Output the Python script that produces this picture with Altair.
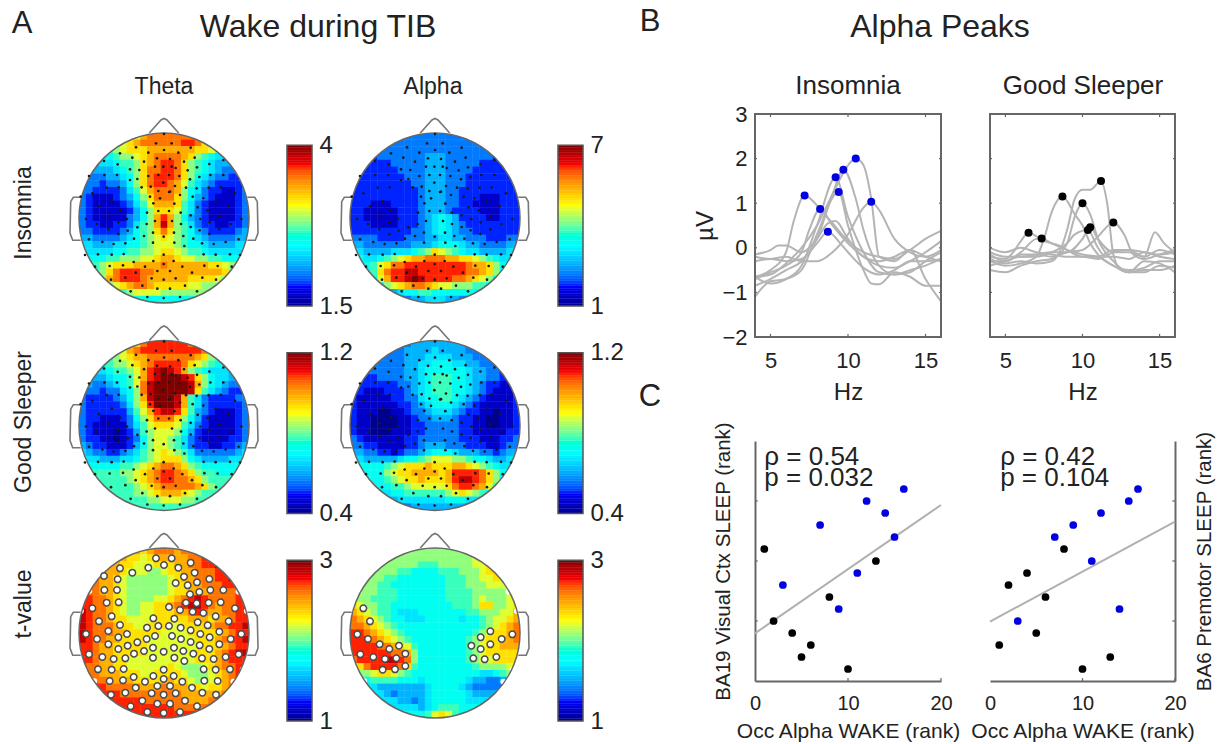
import altair as alt
import numpy as np
import pandas as pd

JET = ["#00008f", "#0000ff", "#00ffff", "#ffff00", "#ff0000", "#800000"]
JET_STOPS = [0, 0.125, 0.375, 0.625, 0.875, 1]
LEVELS = "0123456789abcdef"

theta_insomnia = """777777789bcccccccddca9877
777778 9abccccccddca87777
6666789aaabbbbbbbaa976666
555567889abccccba87655555
444556778abcddca876544444
334445678accddca876543333
333344568acdddca865433223
333233468acddcb9754322223
3322223579bcccb8653221123
3211123468accca8643211123
32111123579bbba7532111123
32111112468aaa97532111123
32111113468bdb86432111123
32211223578beb87532211223
33222234678aca87643222234
443333456789a987654333344
5544455667899987665444455
655556677889aa98776555556
76667788899abba9988776667
77789aaabbbbcbbbbbbaa9877
7778acdddccbbbbbbbbbba877
7778bcdddcbbbbbbaaaa98777
777789abccbaaaaa998887777
7777777899998888888887777
7777777766666666667777777""".replace(" ", "").split("\n")

alpha_insomnia = """3333333333333333333333333
3333333333333333333333333
2233333333333333333333322
2222333333344433333332222
2222223333344433333222222
2222222333344433332222222
2222222233344433322222222
2222222223344433322222222
2222222222344433222222222
2222222222344433222111222
2221112222344433221111222
2211111222344432222111222
2211111222345654222211222
2221111222345654322222222
2222222223345654332222222
3333222233344554433322233
4433333334445666544333344
554444555678a987655444455
66556789abbcccbbaa9876556
66679accdddddddddcbba8655
6667acddeedddddddccba8655
66669bddefeddddccba986555
5555689abccba998887765555
4444444566776666666554444
3333333334455544333333333""".split("\n")

theta_good = """77777778acddddddca8777777
7777789bcdddddddddcb98777
6677789abbcccccccba877666
55667889abcddddca98766555
555567789bdefedb876555444
444456679bdefffeda8655444
443345679cefffffeb8654333
433233568cefffffea7543223
322223468befffeb753222233
322222358adfffeb753222223
3222222479bdeeda743211123
3221112368accca8642111123
32111113579aaa97532111123
3211101247899986421111123
3221101236899875321111223
4322111246899875322112234
543322345789a987533333345
655444556789aaa8654444556
7666667789abccba876666667
777777889abcddcba87766677
777777789abcddccba8777777
7777777789abcccccba877777
77777777889abbba987777777
7777777777889998877777777
7777777777777777777777777""".split("\n")

alpha_good = """3333333334444444433333333
3333333344445444433333333
3333333344455554443333333
3333333344556665544333333
2233333344566666654433222
2222333344567776654433222
2222222334567776654322111
2211122234567776654321111
2111112233566776543211112
2111111223456665432111112
2111001123345554322110112
2110000112334443221100112
2110000112233333221100112
2110001112233333221111122
3211111122333333222111223
3322111122344433322211233
4433221233456665444332344
5544444566789998876654455
66666789aaabaaabba9876556
6666689aabbbbabddddca8655
66666789aabaaabdeedca8655
66666677899999acddcb97655
5555556677777789a98765555
4444444555555566655444444
3333333334444444433333333""".split("\n")

theta_t = """bbbbbbbbbabcccbccdddddddd
bbbbbbbaa9abbbbbccddeeeee
cccbbbaa999aaabbccddeeeee
cccbbba999889aabbcccddeee
dccbba98888889abbcccddeee
dccbba98888889aabbcccddde
dccbba98888889aabbbccccdd
ddccba9888899abcdedccccdd
ddccba98899aabcdeedcbccdd
edccba98899aaabbcdcbbccdd
edccbaa9999aaaaabbbabbcdd
edcccbaa99aaa99aaaabccdde
edcccbbaaaaa9999aaaaabcdd
edccbbaaaa9999999aaabcdde
ddcbbaaaaa99999999aaabcdd
ddcbbaaaaa9999999aaabcdee
ddcbbaa9999999999aaabcddd
dccbbaa999999a98889abccdd
dccbbbaaa99aaaa98889abcdd
dccccbbbaaaabbaa9889abcdd
ddddcccccbbbccbbaa9aabcdd
ddddddcccccccccbbbbbbccdd
dddddddddcccccccbbbcccddd
ddddddddddddddccccccddddd
ddddddddddddddddddddddddd""".split("\n")

alpha_t = """8888888888888888888888888
8888888888888888889999888
88888888887778888899aa998
88888887766667778889aaa98
888887766666667778899a988
8888776666666677788899988
8888777666666677778888899
9887777666666677778988899
a988776666666667778aa889a
ba9877655566666667788899b
cba98766555666665667899ab
ccba987666666666666789abc
ddcba9876666666666789aabc
dddcba98766666666789aabbc
ddddccba976666666789aabbb
ddddddccb86666666789aaaaa
cddddeedc866666667899aaaa
9acddddca7666666667888899
7889aa9876666666666556788
6667777666566666654433456
5555444444456666543333345
5555543444456666654444455
5555555443456666655555555
5555555555456777666665555
6666666666679a97666666666""".split("\n")

# electrodes, in head-relative pixels
sensors_theta_x = [288,335,392,312,265,355,180,404,132,217,372,448,173,347,383,411,133,171,451,490,418,390,140,176,378,410,446,482,97,327,360,398,525,430,155,280,343,467,117,413,506,443,180,261,295,327,362,392,421,478,145,201,175,285,260,336,449,544,78,111,232,363,392,419,512,145,203,175,279,252,342,311,370,448,478,87,127,161,196,222,279,343,373,400,426,461,497,536,114,155,191,311,431,467,510,221,280,311,341,255,367,149,189,433,473,292,330,227,396,153,196,275,311,347,427,468,247,292,330,375,212,411,262,311,360]
sensors_theta_y = [100,100,113,120,128,128,130,143,153,143,155,162,163,174,181,172,195,195,195,195,201,208,233,232,233,235,233,232,250,246,255,260,250,264,274,280,281,274,289,292,289,301,300,308,303,303,308,316,327,320,318,327,337,333,342,333,337,327,327,342,352,342,351,361,342,358,362,372,368,378,368,380,378,372,358,388,396,402,400,386,398,398,408,386,400,402,396,388,433,434,432,434,433,434,433,456,453,462,453,470,470,468,466,467,468,483,483,488,488,509,503,505,509,505,503,509,527,536,536,527,544,544,561,564,561]
extra_x = [312,228,87,62,75,105,540,515,490,291,330,252,238,210,210,232,245,265,295,327,358,272,310,345,295,330,310,285,335,270,300]
extra_y = [72,112,198,260,435,470,435,470,150,145,147,155,180,178,210,207,232,198,195,195,198,230,218,228,243,245,170,170,170,260,265]
edge_x = [88,63,75,103,535,560,548,520]
edge_y = [198,258,435,468,200,258,433,470]
sig_alpha_x = [100,120,82,114,149,207,178,91,130,165,199,226,226,195,158,481,452,547,515,481,424,452,430,464,499]
sig_alpha_y = [250,289,328,342,358,362,372,388,396,402,400,386,423,433,434,319,337,328,342,358,362,372,400,403,396]

nose_x = [-14.7, -3, 0, 3, 14.7]
nose_y = [85, 98, 99.5, 98, 85]
ear_x = [83.3, 90.7, 93.3, 94, 91.3, 83.3]
ear_y = [20.7, 20.7, 16.3, -15, -22.3, -22.3]

hz_ticks = [5, 10, 15]
uv_ticks = [-1, 0, 1, 2]

ins_curves = [
 [(4,-.65),(5,-.5),(6,-.1),(6.5,.6),(7.2,1.17),(8,.95),(8.5,.75),(9,.55),(10,.15),(11,-.1),(12,-.2),(13,-.25),(14,-.05),(15,.2),(16,.38)],
 [(4,-.7),(5,-.55),(6,-.4),(7,-.1),(7.5,.4),(8.2,.87),(9,.5),(10,.1),(11,-.2),(12,-.4),(13,-.45),(14,-.3),(15,-.1),(16,.15)],
 [(4,-.15),(5,-.05),(5.5,.05),(6,.05),(7,-.1),(8,.2),(8.7,.55),(9.2,.6),(10,.2),(11,-.2),(12,-.3),(13,-.2),(14,-.05),(15,-.2),(16,-.3)],
 [(4,-.3),(5,-.25),(6,-.3),(7,-.25),(8,.1),(8.7,.36),(9.5,.1),(10,-.1),(11,-.45),(12,-.6),(13,-.5),(14,-.3),(15,-.3),(16,-.25)],
 [(4,-.65),(5,-.8),(6,-.7),(7,-.4),(8,.5),(9.2,1.58),(10,.7),(11,-.1),(12,-.55),(13,-.6),(14,-.55),(15,-.3),(16,-.1)],
 [(4,-1.1),(5,-.75),(6,-.7),(7,-.5),(8,.3),(9.4,1.25),(10,.5),(11,-.5),(11.5,-.8),(12,-.82),(13,-.55),(14,-.65),(15,-.85),(16,-.85)],
 [(4,-.85),(5,-.7),(6,-.5),(7,-.3),(8,.2),(9,1.2),(9.7,1.75),(10.5,1.1),(11,.4),(12,-.4),(13,-.6),(14,-.5),(15,-.4),(16,-.25)],
 [(4,-.65),(5,-.6),(6,-.35),(7,0),(8,.5),(9,1.2),(10,1.85),(10.5,2),(11,1.85),(11.5,1.1),(12,-.2),(13,-.3),(14,-.05),(15,-.7),(16,-1.2)],
 [(4,-.2),(5,-.25),(6,-.2),(7,-.3),(8,-.3),(9,-.1),(10,.3),(11,.9),(11.5,1.03),(12,.85),(13,.2),(14,-.1),(15,-.2),(16,-.05)],
]
ins_peak_x = [7.2, 8.2, 8.7, 9.2, 9.4, 9.7, 10.5, 11.5]
ins_peak_y = [1.17, .87, .36, 1.58, 1.25, 1.75, 2.0, 1.03]

good_curves = [
 [(4,-.2),(5,-.25),(5.5,-.1),(6,.15),(6.5,.34),(7.5,.15),(8.5,.05),(9,-.05),(10,-.2),(11,-.2),(12,-.05),(13,-.05),(14,-.2),(15,-.05),(16,-.15)],
 [(4,-.15),(5,-.3),(6,-.1),(7,.2),(7.35,.21),(8,.1),(9,-.05),(10,-.15),(11,-.2),(12,-.4),(13,-.5),(14,-.45),(15,-.3),(16,-.3)],
 [(4,-.3),(5,-.4),(6,-.35),(7,-.2),(7.5,.2),(8,.8),(8.7,1.15),(9.5,.75),(10,.5),(10.5,.1),(11,-.15),(12,-.4),(13,-.55),(14,-.5),(15,-.5),(16,-.4)],
 [(4,-.5),(5,-.55),(6,-.4),(7,-.3),(8,-.25),(9,.1),(9.5,.7),(10,1.0),(10.5,.75),(11,.2),(12,-.3),(13,-.55),(14,-.3),(15,-.35),(16,-.55)],
 [(4,-.4),(5,-.3),(6,-.2),(7,-.2),(8,-.1),(9,.1),(9.5,.3),(10.35,.4),(11,0),(11.5,-.2),(12,-.2),(13,-.25),(14,-.1),(15,-.2),(16,-.25)],
 [(4,-.1),(5,-.2),(6,-.2),(7,-.15),(8,-.1),(9,-.1),(10,.2),(10.5,.46),(11,.2),(12,-.1),(13,-.1),(14,-.2),(14.7,.35),(15.3,.1),(16,-.1)],
 [(4,-.25),(5,-.35),(6,-.3),(7,-.35),(8,-.3),(8.5,-.1),(9,.4),(9.5,1.1),(10,1.3),(10.5,1.3),(11.2,1.5),(11.6,1.0),(12,-.15),(12.5,-.5),(13,-.55),(14,-.55),(15,-.4),(16,-.45)],
 [(4,-.3),(5,-.3),(6,-.15),(7,-.15),(8,-.2),(9,-.1),(10,-.05),(11,.25),(12,.57),(12.7,.3),(13.3,-.15),(14,-.25),(15,-.15),(16,-.05)],
 [(4,0),(5,-.1),(6,0),(7,-.1),(8,-.15),(9,-.2),(10,-.2),(11,-.25),(12,-.1),(13,-.05),(14,-.1),(15,-.15),(16,-.1)],
]
good_peak_x = [6.5, 7.35, 8.7, 10, 10.35, 10.5, 11.2, 12]
good_peak_y = [.34, .21, 1.15, 1.0, .4, .46, 1.5, .57]

sc1_black_x = [1, 2, 4, 5, 6, 8, 10, 13]
sc1_black_y = [11, 5, 4, 2, 3, 7, 1, 10]
sc1_blue_x = [3, 7, 9, 11, 12, 14, 15, 16]
sc1_blue_y = [8, 13, 6, 9, 15, 14, 12, 16]
sc1_line_x = [0, 20]
sc1_line_y = [3.97, 14.67]
sc2_black_x = [1, 2, 4, 5, 6, 8, 10, 13]
sc2_black_y = [3, 8, 9, 4, 7, 11, 1, 2]
sc2_blue_x = [3, 7, 9, 11, 12, 14, 15, 16]
sc2_blue_y = [5, 12, 13, 10, 14, 6, 15, 16]
sc2_line_x = [0, 20]
sc2_line_y = [4.95, 13.28]

FONT = "Liberation Sans"
INK = "#222222"
GRID = 25
R = 85
CELL = 2 * R / GRID
ROW_H = 204


def txt(s, px, py, size, angle=0, align="center"):
    return alt.Chart(pd.DataFrame({"t": [s]})).mark_text(
        font=FONT, fontSize=size, color=INK, angle=angle, align=align, baseline="middle"
    ).encode(x=alt.value(px), y=alt.value(py), text="t:N")


def jet_scale(vmin, vmax):
    return alt.Scale(domain=[vmin + s * (vmax - vmin) for s in JET_STOPS], range=JET)


def topo(rows, vmin, vmax, sens=None, sens_kind="dot", cx=312, cy=324, extras=(), edges=False):
    xs = alt.Scale(domain=[-100, 100], nice=False, zero=False)
    ys = alt.Scale(domain=[-100, 104], nice=False, zero=False)
    ax = alt.X("x:Q", scale=xs, axis=None)
    ay = alt.Y("y:Q", scale=ys, axis=None)
    cells = []
    for i, row in enumerate(rows):
        for j, ch in enumerate(row[:GRID]):
            x0 = -R + CELL * j
            y0 = R - CELL * i
            if np.hypot(x0 + CELL / 2, y0 - CELL / 2) > R + CELL:
                continue
            cells.append({"x": x0, "x2": x0 + CELL + 0.4, "y": y0 + 0.4, "y2": y0 - CELL,
                          "v": vmin + LEVELS.index(ch) / 15 * (vmax - vmin)})
    color = alt.Color("v:Q", legend=None, scale=jet_scale(vmin, vmax))
    heat = alt.Chart(pd.DataFrame(cells)).mark_rect(strokeWidth=0).encode(ax, alt.X2("x2:Q"), ay, alt.Y2("y2:Q"), color=color)
    centre = pd.DataFrame({"x": [0], "y": [0]})
    mask = alt.Chart(centre).mark_point(shape="circle", filled=False, stroke="white", strokeWidth=12, opacity=1,
                                        size=(2 * (R + 6)) ** 2).encode(ax, ay)
    outline = alt.Chart(centre).mark_point(shape="circle", filled=False, stroke="#666666", strokeWidth=1.5,
                                           size=(2 * R) ** 2, opacity=1).encode(ax, ay)
    nose = alt.Chart(pd.DataFrame({"x": nose_x, "y": nose_y, "o": range(len(nose_x))})).mark_line(
        color="#777777", strokeWidth=1.6).encode(ax, ay, order="o:O")
    earR = alt.Chart(pd.DataFrame({"x": ear_x, "y": ear_y, "o": range(len(ear_x))})).mark_line(
        color="#777777", strokeWidth=1.6).encode(ax, ay, order="o:O")
    earL = alt.Chart(pd.DataFrame({"x": [-v for v in ear_x], "y": ear_y, "o": range(len(ear_x))})).mark_line(
        color="#777777", strokeWidth=1.6).encode(ax, ay, order="o:O")
    layers = [heat, mask]
    if edges:
        ed = pd.DataFrame({"x": [(v - cx) / 3 for v in edge_x], "y": [(cy - v) / 3 for v in edge_y]})
        layers.append(alt.Chart(ed).mark_circle(color="white", size=32, opacity=1).encode(ax, ay))
    layers += [outline, nose, earR, earL]
    if sens is not None:
        sx, sy = sens
        sd = pd.DataFrame({"x": [(v - cx) / 3 for v in sx], "y": [(cy - v) / 3 for v in sy]})
        if sens_kind == "dot":
            layers.append(alt.Chart(sd).mark_circle(color="#1a1a1a", size=7, opacity=1).encode(ax, ay))
        else:
            layers.append(alt.Chart(sd).mark_point(shape="circle", filled=True, fill="white", stroke="#4a4a4a",
                                                   strokeWidth=1.5, size=42, opacity=1).encode(ax, ay))
    layers += list(extras)
    return alt.layer(*layers).properties(width=200, height=ROW_H)


def cbar(vmin, vmax, lab):
    k = 160.7 / (vmax - vmin)
    dom = [vmin - 12 / k, vmax + 31.3 / k]
    vals = np.linspace(vmin, vmax, 65)
    step = vals[1] - vals[0]
    df = pd.DataFrame({"a": 0, "b": 1, "v": vals[:-1] + step / 2, "y": vals[:-1], "y2": vals[1:] + step * 0.1})
    df["y2"] = df["y2"].clip(upper=vmax)
    xs = alt.Scale(domain=[0, 1], nice=False, zero=False)
    ysc = alt.Scale(domain=dom, nice=False, zero=False)
    bars = alt.Chart(df).mark_rect(strokeWidth=0).encode(
        alt.X("a:Q", scale=xs, axis=None), alt.X2("b:Q"),
        alt.Y("y:Q", scale=ysc, axis=alt.Axis(orient="right", values=lab, title=None, domain=False, ticks=False,
                                              grid=False, labelFontSize=24, labelFont=FONT, labelColor=INK,
                                              labelPadding=7, format="~g", labelOverlap=False, labelBound=False,
                                              labelFlush=False)),
        alt.Y2("y2:Q"),
        color=alt.Color("v:Q", legend=None, scale=jet_scale(vmin, vmax)))
    box = alt.Chart(pd.DataFrame({"a": [0], "b": [1], "y": [vmin], "y2": [vmax]})).mark_rect(
        fillOpacity=0, stroke="#555555", strokeWidth=1.5).encode(
        alt.X("a:Q", scale=xs, axis=None), alt.X2("b:Q"), alt.Y("y:Q", scale=ysc), alt.Y2("y2:Q"))
    return alt.layer(bars, box).properties(width=25, height=ROW_H)


def spacer(w):
    return alt.Chart(pd.DataFrame({"x": [0]})).mark_point(opacity=0).encode(
        x=alt.value(0), y=alt.value(0)).properties(width=w, height=10)


def lineplot(curves, px, py, pcolor, title, first):
    xs = alt.Scale(domain=[4, 16], nice=False, zero=False)
    ys = alt.Scale(domain=[-2, 3], nice=False, zero=False, range=[223, 0])
    axis_y = alt.Axis(values=[-2, -1, 0, 1, 2, 3], title="µV", domain=False, ticks=False, grid=False, labelFontSize=22,
                      labelFont=FONT, labelColor=INK, labelPadding=8, titleFont=FONT, titleFontSize=24,
                      titleFontWeight="normal", titleColor=INK, titlePadding=4, labelBound=False, labelFlush=False) if first else None
    axis_x = alt.Axis(values=hz_ticks, title="Hz", domain=False, ticks=False, grid=False, labelFontSize=22, labelFont=FONT,
                      labelColor=INK, labelPadding=13, titleFont=FONT, titleFontSize=24, titleFontWeight="normal",
                      titleColor=INK, titlePadding=9, labelAngle=0, offset=223 - ROW_H)
    X = alt.X("x:Q", scale=xs, axis=axis_x)
    Y = alt.Y("y:Q", scale=ys, axis=axis_y)
    X0 = alt.X("x:Q", scale=xs)
    Y0 = alt.Y("y:Q", scale=ys)
    recs = [{"id": n, "x": a, "y": b} for n, c in enumerate(curves) for a, b in c]
    lines = alt.Chart(pd.DataFrame(recs)).mark_line(color="#b4b4b4", strokeWidth=2, interpolate="monotone").encode(X, Y, detail="id:N")
    pts = alt.Chart(pd.DataFrame({"x": px, "y": py})).mark_circle(color=pcolor, size=64, opacity=1).encode(X0, Y0)
    box = alt.Chart(pd.DataFrame({"x": [4], "x2": [16], "y": [-2], "y2": [3]})).mark_rect(
        fillOpacity=0, stroke="#666666", strokeWidth=2).encode(X0, alt.X2("x2:Q"), Y0, alt.Y2("y2:Q"))
    tk = []
    for v in hz_ticks:
        tk += [{"x": v, "x2": v, "y": -2, "y2": -1.93}, {"x": v, "x2": v, "y": 3, "y2": 2.93}]
    for v in uv_ticks:
        tk += [{"x": 4, "x2": 4.13, "y": v, "y2": v}, {"x": 16, "x2": 15.87, "y": v, "y2": v}]
    ticks = alt.Chart(pd.DataFrame(tk)).mark_rule(color="#666666", strokeWidth=1.2).encode(X0, alt.X2("x2:Q"), Y0, alt.Y2("y2:Q"))
    head = txt(title, 93, -28, 26)
    return alt.layer(lines, box, ticks, pts, head).properties(width=186 if first else 185, height=ROW_H)


def scatter(bx, by, ux, uy, lx, ly, ylabel, orient, rho, pval, tx):
    top = 441 - 321.5
    xs = alt.Scale(domain=[0, 20], nice=False, zero=False)
    ys = alt.Scale(domain=[0, 20], nice=False, zero=False, range=[top + 240, top])
    axis_x = alt.Axis(values=[0, 10, 20], title="Occ Alpha WAKE (rank)", domainColor="#666666", domainWidth=2, ticks=False,
                      grid=False, labelFontSize=20, labelFont=FONT, labelColor=INK, labelPadding=12, titleFont=FONT,
                      titleFontSize=21, titleFontWeight="normal", titleColor=INK, titlePadding=7, labelAngle=0,
                      labelOverlap=False, labelBound=False, labelFlush=False, offset=top + 240 - ROW_H)
    axis_y = alt.Axis(orient=orient, labels=False, title=ylabel, domainColor="#666666", domainWidth=2, ticks=False,
                      grid=False, titleFont=FONT, titleFontSize=20.5, titleFontWeight="normal", titleColor=INK,
                      titlePadding=22 if orient == "left" else 39, titleAngle=270)
    X = alt.X("x:Q", scale=xs, axis=axis_x)
    Y = alt.Y("y:Q", scale=ys, axis=axis_y)
    X0 = alt.X("x:Q", scale=xs)
    Y0 = alt.Y("y:Q", scale=ys)
    line = alt.Chart(pd.DataFrame({"x": lx, "y": ly})).mark_line(color="#b0b0b0", strokeWidth=2).encode(X, Y)
    p_black = alt.Chart(pd.DataFrame({"x": bx, "y": by})).mark_circle(color="black", size=60, opacity=1).encode(X0, Y0)
    p_blue = alt.Chart(pd.DataFrame({"x": ux, "y": uy})).mark_circle(color="#0000e0", size=60, opacity=1).encode(X0, Y0)
    edge = 0 if orient == "left" else 20
    sign = 1 if orient == "left" else -1
    tk = [{"x": edge, "x2": edge + sign * 0.3, "y": v, "y2": v} for v in [5, 10, 15]]
    tk += [{"x": v, "x2": v, "y": 0, "y2": 0.25} for v in [10, 20]]
    ticks = alt.Chart(pd.DataFrame(tk)).mark_rule(color="#666666", strokeWidth=1.2).encode(X0, alt.X2("x2:Q"), Y0, alt.Y2("y2:Q"))
    labels = alt.Chart(pd.DataFrame({"x": [tx, tx], "y": [18.7, 16.9], "t": [rho, pval]})).mark_text(
        font=FONT, fontSize=26, color=INK, align="left", baseline="middle").encode(X0, Y0, text="t:N")
    return alt.layer(line, ticks, p_black, p_blue, labels).properties(width=186 if orient == "left" else 185, height=ROW_H)


sens_dots = (sensors_theta_x + extra_x, sensors_theta_y + extra_y)
sens_dots_a = ([v + 3 for v in sens_dots[0]], sens_dots[1])
sens_dots2 = (sens_dots[0], [v + 9 for v in sens_dots[1]])
sens_dots2a = (sens_dots_a[0], sens_dots2[1])

headline = [
    txt("A", 22 - 64, 24 - 114, 31),
    txt("Wake during TIB", 318 - 64, 27 - 114, 32),
    txt("B", 650 - 64, 22 - 114, 31),
    txt("Alpha Peaks", 940 - 64, 27 - 114, 32),
    txt("C", 650 - 64, 397 - 114, 31),
    txt("Insomnia", -40, 213 - 114, 23, angle=270),
    txt("Theta", 100, -27, 23),
]

panels = [
    topo(theta_insomnia, 1.5, 4, sens_dots, extras=headline), cbar(1.5, 4, [1.5, 4]),
    topo(alpha_insomnia, 1, 7, sens_dots_a, cx=315, extras=[txt("Alpha", 98, -27, 23)]), cbar(1, 7, [1, 7]),
    spacer(126),
    lineplot(ins_curves, ins_peak_x, ins_peak_y, "#0000e0", "Insomnia", True),
    spacer(3),
    lineplot(good_curves, good_peak_x, good_peak_y, "black", "Good Sleeper", False),

    topo(theta_good, 0.4, 1.2, sens_dots2, cy=333, extras=[txt("Good Sleeper", -40, 422 - 321.5, 23, angle=270)]),
    cbar(0.4, 1.2, [0.4, 1.2]),
    topo(alpha_good, 0.4, 1.2, sens_dots2a, cx=315, cy=333), cbar(0.4, 1.2, [0.4, 1.2]),
    spacer(126),
    scatter(sc1_black_x, sc1_black_y, sc1_blue_x, sc1_blue_y, sc1_line_x, sc1_line_y,
            "BA19 Visual Ctx SLEEP (rank)", "left", "ρ = 0.54", "p = 0.032", 1),
    spacer(3),
    scatter(sc2_black_x, sc2_black_y, sc2_blue_x, sc2_blue_y, sc2_line_x, sc2_line_y,
            "BA6 Premotor SLEEP (rank)", "right", "ρ = 0.42", "p = 0.104", 1.1),

    topo(theta_t, 1, 3, (sensors_theta_x, sensors_theta_y), "white", edges=True,
         extras=[txt("t-value", -40, 604 - 529, 23, angle=270)]),
    cbar(1, 3, [1, 3]),
    topo(alpha_t, 1, 3, (sig_alpha_x, sig_alpha_y), "white", cx=315, edges=True), cbar(1, 3, [1, 3]),
]

chart = alt.concat(*panels, columns=8, spacing=alt.RowColnumber(column=23, row=3.5), bounds="flush", align="each").resolve_scale(
    color="independent"
).properties(
    padding={"left": 56, "top": 106, "right": 1152, "bottom": 630},
    autosize=alt.AutoSizeParams(type="none"),
    background="white",
).configure_view(stroke=None)

chart.save("out.html", embed_options={"renderer": "svg", "actions": False})
